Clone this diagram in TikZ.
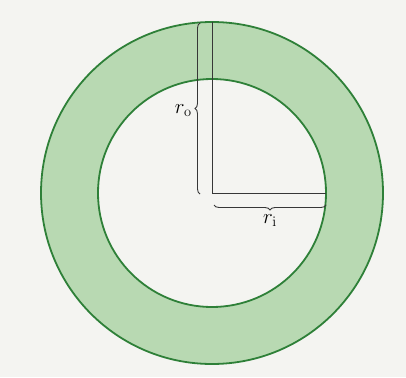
\documentclass[tikz,border=0pt]{standalone}
\usetikzlibrary{decorations.pathreplacing}
\definecolor{bgpaper}{RGB}{244,244,241}
\definecolor{ringfill}{RGB}{184,217,178}
\definecolor{ringline}{RGB}{46,128,56}
\definecolor{inkline}{RGB}{55,55,55}
\tikzset{
  ring/.style={draw=ringline, line width=1.8pt},
  radline/.style={draw=inkline, line width=1pt},
  bracestyle/.style={draw=inkline, line width=0.9pt, decorate,
    decoration={brace, amplitude=5pt}},
  lbl/.style={font=\fontsize{22}{26}\selectfont, inner sep=1pt}
}
\begin{document}
\begin{tikzpicture}[x=1pt,y=-1pt]
\useasboundingbox (0,0) rectangle (406,377);
\fill[bgpaper] (0,0) rectangle (406,377);
% ring
\coordinate (c) at (212,193);
\fill[ringfill, even odd rule] (c) circle[radius=171] (c) circle[radius=114];
\draw[ring] (c) circle[radius=171];
\draw[ring] (c) circle[radius=114];
% radii
\coordinate (t) at (212,22);
\coordinate (e) at (326,193);
\draw[radline] (t) -- (c) -- (e);
% braces
\coordinate (ob) at (200,194);
\coordinate (ot) at (200,23);
\draw[bracestyle] (ob) -- (ot) node[midway, left=7pt, yshift=-2pt, lbl] (ro) {$r_{\mathrm{o}}$};
\coordinate (ir) at (326,205);
\coordinate (il) at (214,205);
\draw[bracestyle] (ir) -- (il) node[midway, below=8pt, lbl] (ri) {$r_{\mathrm{i}}$};
\end{tikzpicture}
\end{document}
